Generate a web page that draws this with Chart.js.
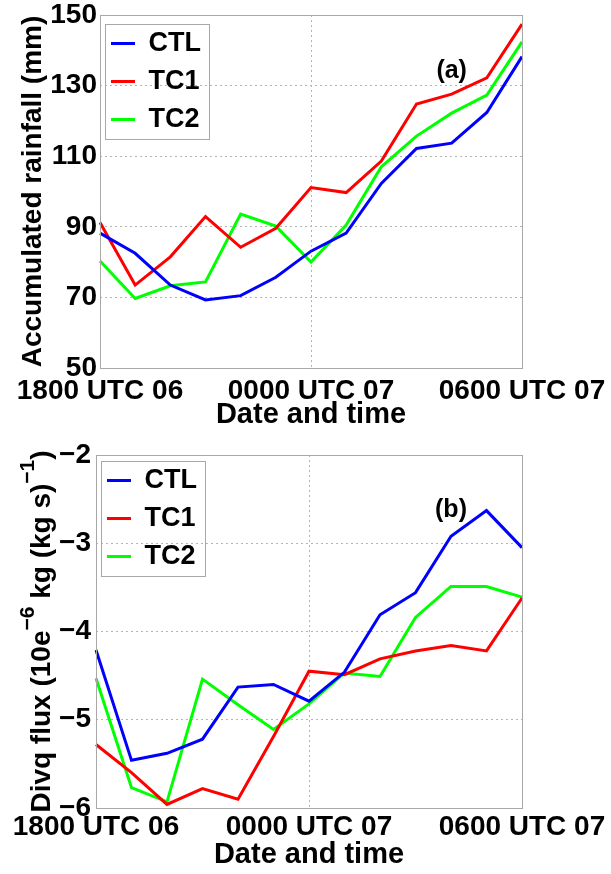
<!DOCTYPE html>
<html>
<head>
<meta charset="utf-8">
<script src="https://cdn.jsdelivr.net/npm/chart.js@4.4.1/dist/chart.umd.min.js"></script>
<style>
  html, body { margin: 0; padding: 0; background: #fff; }
  .panel { position: absolute; left: 0; width: 611px; height: 437px; }
  #panelA { top: 0; }
  #panelB { top: 437px; }
</style>
</head>
<body>
<div class="panel" id="panelA"><canvas id="chartA"></canvas></div>
<div class="panel" id="panelB"><canvas id="chartB"></canvas></div>
<script>
// hourly times, 1800 UTC 06 -> 0600 UTC 07
const timeLabels = ['1800 UTC 06', '1900 UTC 06', '2000 UTC 06', '2100 UTC 06', '2200 UTC 06', '2300 UTC 06',
  '0000 UTC 07', '0100 UTC 07', '0200 UTC 07', '0300 UTC 07', '0400 UTC 07', '0500 UTC 07', '0600 UTC 07'];
const seriesNames = ['CTL', 'TC1', 'TC2'];

// (a) accumulated rainfall, mm
const rainCTL = [88.2, 82.5, 73.5, 69.3, 70.5, 75.7, 83.1, 88.2, 102.3, 112.2, 113.7, 122.4, 138.2];
const rainTC1 = [91.2, 73.5, 81.5, 92.9, 84.2, 89.6, 101.1, 99.7, 108.6, 124.8, 127.6, 132.2, 147.4];
const rainTC2 = [80.3, 69.7, 73.3, 74.4, 93.6, 90.2, 80.0, 90.5, 107.0, 115.7, 122.2, 127.3, 142.4];
const rainTicks = [50, 150, 20];

// (b) divq flux, 10e-6 kg (kg s)^-1
const fluxCTL = [-4.21, -5.46, -5.38, -5.22, -4.63, -4.60, -4.79, -4.46, -3.81, -3.56, -2.92, -2.63, -3.05];
const fluxTC1 = [-5.28, -5.60, -5.96, -5.78, -5.90, -5.19, -4.45, -4.49, -4.31, -4.22, -4.16, -4.22, -3.62];
const fluxTC2 = [-4.53, -5.77, -5.93, -4.54, -4.83, -5.11, -4.82, -4.47, -4.51, -3.84, -3.49, -3.49, -3.61];
const fluxTicks = [-6, -2, 1];

const FONT = 'Liberation Sans, Arial, sans-serif';
const colors = ['#0000ff', '#ff0000', '#00ff00'];
Chart.defaults.font.family = FONT;
Chart.defaults.color = '#000';

// box round the plot, legend frame, panel tag, y title with superscripts
function panelDecor(opts) {
  return {
    id: 'panelDecor',
    afterDraw(chart) {
      const ctx = chart.ctx;
      const a = chart.chartArea;
      ctx.save();
      ctx.strokeStyle = '#a8a8a8';
      ctx.lineWidth = 1;
      ctx.strokeRect(Math.round(a.left) + 0.5, Math.round(a.top) + 0.5,
        Math.round(a.right - a.left), Math.round(a.bottom - a.top));

      const boxes = chart.legend.legendHitBoxes;
      if (boxes && boxes.length) {
        const l = Math.min(...boxes.map(b => b.left)) - 6;
        const t = Math.min(...boxes.map(b => b.top)) - 6;
        const r = Math.max(...boxes.map(b => b.left + b.width)) + 8;
        const btm = Math.max(...boxes.map(b => b.top + b.height)) + 6;
        ctx.strokeRect(Math.round(l) + 0.5, Math.round(t) + 0.5, Math.round(r - l), Math.round(btm - t));
      }

      ctx.fillStyle = '#000';
      ctx.font = 'bold 25px ' + FONT;
      ctx.textAlign = 'center';
      ctx.textBaseline = 'middle';
      ctx.fillText(opts.tag, chart.scales.x.getPixelForValue(opts.tagAt[0]),
        chart.scales.y.getPixelForValue(opts.tagAt[1]));

      const main = 'bold 28px ' + FONT, sup = 'bold 21px ' + FONT;
      ctx.translate(opts.titleX, (a.top + a.bottom) / 2);
      ctx.rotate(-Math.PI / 2);
      ctx.textAlign = 'left';
      ctx.textBaseline = 'alphabetic';
      let total = 0;
      opts.title.forEach(s => { ctx.font = s.sup ? sup : main; total += ctx.measureText(s.t).width; });
      let x = -total / 2;
      opts.title.forEach(s => {
        ctx.font = s.sup ? sup : main;
        ctx.fillText(s.t, x, s.sup ? -16 : 0);
        x += ctx.measureText(s.t).width;
      });
      ctx.restore();
    }
  };
}

function makeChart(id, values, ticks, cfg) {
  const datasets = values.map((v, i) => ({
    label: seriesNames[i],
    data: v,
    borderColor: colors[i],
    backgroundColor: colors[i],
    borderWidth: 3,
    pointRadius: 0,
    tension: 0
  }));
  return new Chart(document.getElementById(id), {
    type: 'line',
    data: { labels: timeLabels, datasets },
    plugins: [panelDecor(cfg)],
    options: {
      responsive: true,
      maintainAspectRatio: false,
      animation: false,
      devicePixelRatio: 1,
      layout: { padding: { top: cfg.top, right: 89, left: 0, bottom: 0 } },
      plugins: {
        tooltip: { enabled: false },
        legend: {
          position: 'chartArea',
          align: 'start',
          // empty title only pushes the rows down from the frame top
          title: { display: true, text: '', font: { size: 10 }, padding: { top: 7, bottom: 0 } },
          labels: {
            font: { size: 27, weight: 'bold' },
            color: '#000',
            usePointStyle: true,
            pointStyle: 'line',
            pointStyleWidth: 24,
            padding: 11
          }
        }
      },
      scales: {
        x: {
          type: 'category',
          grid: {
            color: c => (c.index % 6 === 0 ? '#b4b4b4' : 'rgba(0,0,0,0)'),
            drawTicks: false
          },
          border: { display: false, dash: [2, 3] },
          ticks: {
            autoSkip: false,
            maxRotation: 0,
            padding: cfg.xPad,
            font: { size: 28, weight: 'bold' },
            callback: (v, i) => (i % 6 === 0 ? timeLabels[i] : '')
          },
          title: {
            display: true,
            text: 'Date and time',
            font: { size: 29, weight: 'bold' },
            padding: { top: 0, bottom: cfg.xTitlePad }
          },
          afterFit(s) { s.height = 437 - cfg.bottom; s.paddingLeft = 0; s.paddingRight = 0; }
        },
        y: {
          min: ticks[0],
          max: ticks[1],
          grid: { color: '#b4b4b4', drawTicks: false },
          border: { display: false, dash: [2, 3] },
          ticks: {
            stepSize: ticks[2],
            padding: cfg.yPad,
            font: { size: 28, weight: 'bold' },
            callback: v => String(v).replace('-', '\u2212')
          },
          afterFit(s) { s.width = cfg.left; s.paddingTop = 0; s.paddingBottom = 0; }
        }
      }
    }
  });
}

makeChart('chartA', [rainCTL, rainTC1, rainTC2], rainTicks, {
  top: 15, bottom: 368, left: 100, xPad: 6, xTitlePad: 5, yPad: 3,
  tag: '(a)', tagAt: [10, 134], titleX: 41,
  title: [{ t: 'Accumulated rainfall (mm)' }]
});

makeChart('chartB', [fluxCTL, fluxTC1, fluxTC2], fluxTicks, {
  top: 18, bottom: 371, left: 96, xPad: 2, xTitlePad: 2, yPad: 5,
  tag: '(b)', tagAt: [10, -2.62], titleX: 50,
  title: [{ t: 'Divq flux (10e' }, { t: '\u22126', sup: true }, { t: ' kg (kg s)' },
    { t: '\u22121', sup: true }, { t: ')' }]
});
</script>
</body>
</html>
